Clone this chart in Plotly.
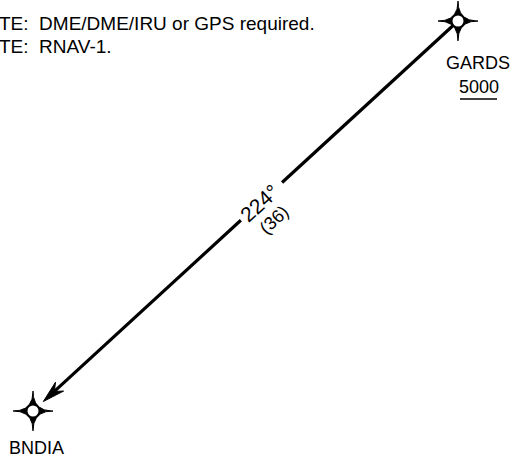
import numpy as np
import plotly.graph_objects as go

# ---- data ----
fix_names = ["GARDS", "BNDIA"]
fix_x = [458, 33]
fix_y = [21, 411]
gards_altitude = "5000"
course_label = "224°"
distance_label = "(36)"
note_lines = ["TE:\u00a0\u00a0DME/DME/IRU or GPS required.", "TE:\u00a0\u00a0RNAV-1."]

FONT = "Liberation Sans"
W, H = 516, 459

fig = go.Figure()

# ---- route geometry from the fixes ----
p0 = np.array([fix_x[0], fix_y[0]], float)
p1 = np.array([fix_x[1], fix_y[1]], float)
d = p1 - p0
L = np.hypot(*d)
u = d / L
n = np.array([-u[1], u[0]])  # perpendicular

gap_a, gap_b = 0.414 * L, 0.511 * L
tip = p1 - 14 * u
notch = tip - 15 * u
back1 = tip - 22 * u + 6 * n
back2 = tip - 22 * u - 6 * n

seg1 = [p0, p0 + gap_a * u]
seg2 = [p0 + gap_b * u, notch]
for seg in (seg1, seg2):
    fig.add_trace(go.Scatter(x=[seg[0][0], seg[1][0]], y=[seg[0][1], seg[1][1]],
                             mode="lines", line=dict(color="black", width=3.2),
                             hoverinfo="skip", showlegend=False))

arrow = np.array([tip, back1, notch, back2, tip])
fig.add_trace(go.Scatter(x=arrow[:, 0], y=arrow[:, 1], mode="lines", fill="toself",
                         fillcolor="black", line=dict(color="black", width=1),
                         hoverinfo="skip", showlegend=False))

# ---- fix symbols (four-point star + ring) ----
def star(cx, cy, R=20, k=4.0, m=200):
    t = np.linspace(0, 2 * np.pi, m)
    c, s = np.cos(t), np.sin(t)
    x = cx + R * np.sign(c) * np.abs(c) ** k
    y = cy + R * np.sign(s) * np.abs(s) ** k
    return x, y

for fx, fy in zip(fix_x, fix_y):
    sx, sy = star(fx, fy)
    fig.add_trace(go.Scatter(x=sx, y=sy, mode="lines", fill="toself", fillcolor="black",
                             line=dict(color="black", width=1), hoverinfo="skip",
                             showlegend=False))
fig.add_trace(go.Scatter(x=fix_x, y=fix_y, mode="markers",
                         marker=dict(size=13, color="white", line=dict(color="black", width=2)),
                         hoverinfo="skip", showlegend=False))

# ---- labels ----
ang = -np.degrees(np.arctan2(abs(d[1]), abs(d[0])))
mid = p0 + 0.468 * L * u
perp_dn = np.array([abs(n[0]), abs(n[1])])
dist_pos = mid + 22 * perp_dn

fig.add_annotation(x=mid[0], y=mid[1], text=course_label, showarrow=False, textangle=ang,
                   xanchor="center", yanchor="middle",
                   font=dict(family=FONT, size=21, color="black"))
fig.add_annotation(x=dist_pos[0], y=dist_pos[1], text=distance_label, showarrow=False,
                   textangle=ang, xanchor="center", yanchor="middle",
                   font=dict(family=FONT, size=18, color="black"))

g_lab = (fix_x[0] + 20, fix_y[0] + 42)
fig.add_annotation(x=g_lab[0], y=g_lab[1], text=fix_names[0], showarrow=False,
                   xanchor="center", yanchor="middle",
                   font=dict(family=FONT, size=18, color="black"))
fig.add_annotation(x=g_lab[0] + 0.5, y=g_lab[1] + 24, text=gards_altitude, showarrow=False,
                   xanchor="center", yanchor="middle",
                   font=dict(family=FONT, size=18, color="black"))
# underline of the altitude
fig.add_shape(type="line", x0=g_lab[0] - 18, x1=g_lab[0] + 19,
              y0=g_lab[1] + 36, y1=g_lab[1] + 36, line=dict(color="black", width=1.5))

fig.add_annotation(x=fix_x[1] + 3, y=fix_y[1] + 37, text=fix_names[1], showarrow=False,
                   xanchor="center", yanchor="middle",
                   font=dict(family=FONT, size=18, color="black"))

for i, line in enumerate(note_lines):
    fig.add_annotation(x=0, y=23 + 23 * i, xref="paper", yref="y", text=line,
                       showarrow=False, xanchor="left", xshift=-3,
                       yanchor="middle", font=dict(family=FONT, size=19, color="black"))

fig.update_layout(width=W, height=H, margin=dict(l=0, r=0, t=0, b=0),
                  paper_bgcolor="white", plot_bgcolor="white", showlegend=False,
                  xaxis=dict(range=[0, W], visible=False, fixedrange=True),
                  yaxis=dict(range=[H, 0], visible=False, fixedrange=True))

fig.write_html("out.html", config={"displayModeBar": False},
               post_script="document.body.style.margin='0';document.body.style.overflow='hidden';")
